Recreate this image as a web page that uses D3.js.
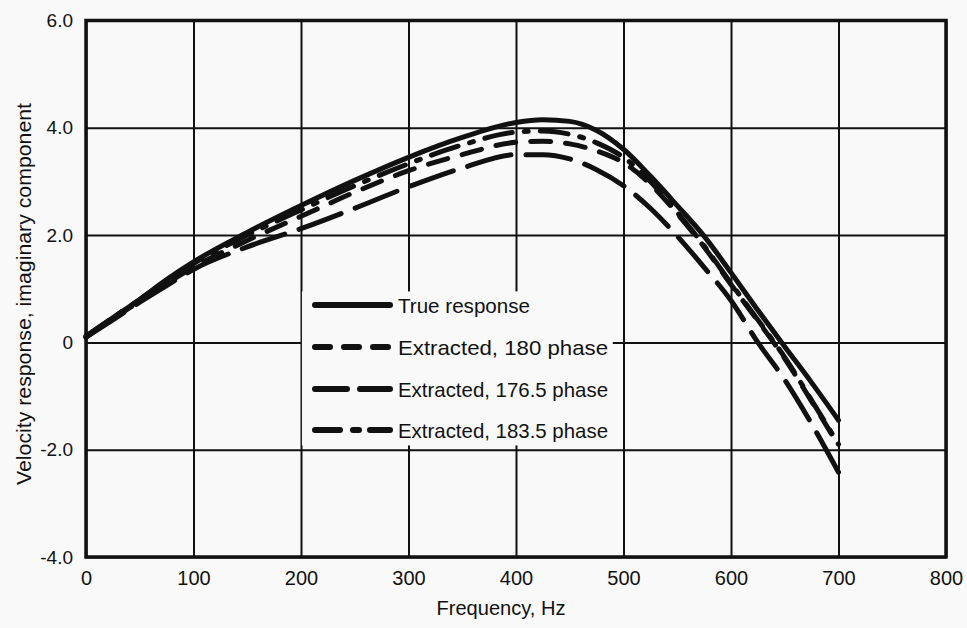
<!DOCTYPE html>
<html>
<head>
<meta charset="utf-8">
<script src="https://cdn.jsdelivr.net/npm/d3@7"></script>
<style>
  html, body { margin: 0; padding: 0; background: #f9f9f9; }
  svg { display: block; }
  text { font-family: "Liberation Sans", Arial, Helvetica, sans-serif; fill: #111; }
</style>
</head>
<body>
<svg id="chart" width="967" height="628"></svg>
<script>
// Frequency samples (Hz)
const freqs = [0, 25, 50, 75, 100, 150, 200, 250, 300, 350, 400, 425, 450, 475, 500, 525, 550, 575, 600, 625, 650, 675, 700];

// Imaginary component of velocity response
const trueResponse = [0.12, 0.46, 0.8, 1.17, 1.5, 2.05, 2.55, 3.02, 3.45, 3.82, 4.1, 4.15, 4.12, 3.95, 3.6, 3.1, 2.55, 1.98, 1.3, 0.6, -0.08, -0.75, -1.45];
const phase180 = [0.1, 0.44, 0.77, 1.1, 1.4, 1.9, 2.35, 2.8, 3.2, 3.5, 3.73, 3.75, 3.7, 3.57, 3.35, 2.95, 2.4, 1.78, 1.08, 0.4, -0.3, -1.1, -1.92];
const phase1765 = [0.1, 0.42, 0.75, 1.06, 1.36, 1.78, 2.12, 2.5, 2.9, 3.25, 3.5, 3.5, 3.42, 3.22, 2.92, 2.5, 1.98, 1.4, 0.78, 0.0, -0.7, -1.52, -2.42];
const phase1835 = [0.1, 0.46, 0.8, 1.15, 1.47, 2.0, 2.47, 2.92, 3.33, 3.68, 3.92, 3.94, 3.88, 3.72, 3.45, 3.0, 2.42, 1.8, 1.1, 0.42, -0.28, -1.08, -1.9];

// Axis ticks
const xTicks = [0, 100, 200, 300, 400, 500, 600, 700, 800];
const yTicks = [-4, -2, 0, 2, 4, 6];
const yTickLabels = ["-4.0", "-2.0", "0", "2.0", "4.0", "6.0"];

// Legend entries
const seriesNames = ["True response", "Extracted, 180 phase", "Extracted, 176.5 phase", "Extracted, 183.5 phase"];

const svg = d3.select("#chart");
const plotL = 86, plotR = 946, plotT = 20.5, plotB = 557;

const x = d3.scaleLinear().domain([0, 800]).range([plotL, plotR]);
const y = d3.scaleLinear().domain([-4, 6]).range([plotB, plotT]);

// Grid lines + tick labels
const xAxis = svg.append("g")
  .attr("transform", `translate(0,${plotB})`)
  .call(d3.axisBottom(x).tickValues(xTicks).tickFormat(d3.format("d"))
    .tickSizeInner(-(plotB - plotT)).tickSizeOuter(0).tickPadding(14));
const yAxis = svg.append("g")
  .attr("transform", `translate(${plotL},0)`)
  .call(d3.axisLeft(y).tickValues(yTicks).tickFormat((d, i) => yTickLabels[i])
    .tickSizeInner(-(plotR - plotL)).tickSizeOuter(0).tickPadding(13));

[xAxis, yAxis].forEach(g => {
  g.select(".domain").remove();
  g.selectAll(".tick line").attr("stroke", "#111").attr("stroke-width", 2);
});
xAxis.selectAll(".tick text").attr("font-size", 20).attr("fill", "#111").attr("dy", "0.72em");
yAxis.selectAll(".tick text").attr("font-size", 19).attr("fill", "#111");

// Plot frame
svg.append("rect")
  .attr("x", plotL).attr("y", plotT)
  .attr("width", plotR - plotL).attr("height", plotB - plotT)
  .attr("fill", "none").attr("stroke", "#111").attr("stroke-width", 3.5);

// Legend panel masks the grid behind it
const legendX = x(199) + 2, legendTop = y(0.95), legendBottom = y(-1.92);
svg.append("rect")
  .attr("x", legendX).attr("y", legendTop)
  .attr("width", x(490) - legendX).attr("height", legendBottom - legendTop)
  .attr("fill", "#f9f9f9");

const curveStyles = [
  { dash: null, legendDash: null },
  { dash: "20,15", legendDash: "15,14" },
  { dash: "45,15", legendDash: "32,13" },
  { dash: "28,12,4,12", legendDash: "25,13,6,11" }
];
const seriesValues = [trueResponse, phase180, phase1765, phase1835];

const line = d3.line()
  .x(d => x(d[0]))
  .y(d => y(d[1]))
  .curve(d3.curveMonotoneX);

// Draw extracted curves first so the true response sits on top
[3, 2, 1, 0].forEach(i => {
  const pts = freqs.map((f, k) => [f, seriesValues[i][k]]);
  svg.append("path")
    .datum(pts)
    .attr("d", line)
    .attr("fill", "none")
    .attr("stroke", "#111")
    .attr("stroke-width", 5)
    .attr("stroke-linecap", "round")
    .attr("stroke-linejoin", "round")
    .attr("stroke-dasharray", curveStyles[i].dash);
});

// Legend
const legendRows = [305, 347, 389, 430];
const lg = svg.append("g");
seriesNames.forEach((name, i) => {
  lg.append("line")
    .attr("x1", 315).attr("x2", 390)
    .attr("y1", legendRows[i]).attr("y2", legendRows[i])
    .attr("stroke", "#111").attr("stroke-width", 6)
    .attr("stroke-linecap", "round")
    .attr("stroke-dasharray", curveStyles[i].legendDash);
  lg.append("text")
    .attr("x", 398).attr("y", legendRows[i] + 8)
    .attr("font-size", 21)
    .attr("textLength", [132, 210, 210, 210][i])
    .attr("lengthAdjust", "spacingAndGlyphs")
    .text(name);
});

// Axis titles
svg.append("text")
  .attr("x", 501).attr("y", 615)
  .attr("text-anchor", "middle")
  .attr("font-size", 20)
  .attr("textLength", 129).attr("lengthAdjust", "spacingAndGlyphs")
  .text("Frequency, Hz");

svg.append("text")
  .attr("transform", "translate(31,294) rotate(-90)")
  .attr("text-anchor", "middle")
  .attr("font-size", 20)
  .attr("textLength", 382).attr("lengthAdjust", "spacingAndGlyphs")
  .text("Velocity response, imaginary component");
</script>
</body>
</html>
